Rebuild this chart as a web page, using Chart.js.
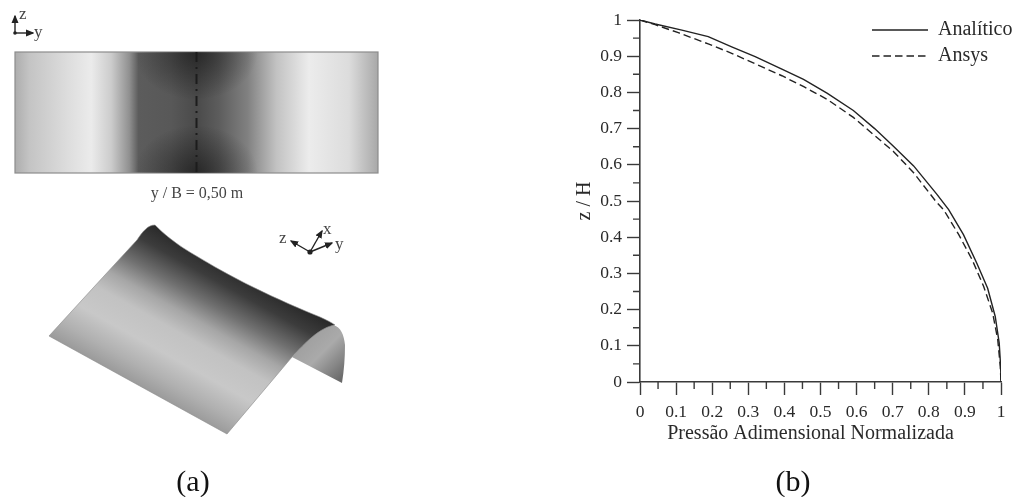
<!DOCTYPE html>
<html>
<head>
<meta charset="utf-8">
<title>Pressão Adimensional Normalizada</title>
<script src="https://cdn.jsdelivr.net/npm/chart.js@4"></script>
<style>
  html, body { margin: 0; padding: 0; background: #fff; }
  #page { position: relative; width: 1016px; height: 497px; overflow: hidden; filter: blur(0.35px); }
  #page svg, #page canvas { position: absolute; top: 0; }
  #page svg { left: 0; }
  #page canvas { left: 560px; }
  svg text { font-family: "Liberation Serif", serif; }
</style>
</head>
<body>
<div id="page">
  <svg width="1016" height="497" viewBox="0 0 1016 497">
    <defs>
      <linearGradient id="band" x1="15" y1="0" x2="378" y2="0" gradientUnits="userSpaceOnUse">
        <stop offset="0" stop-color="#adadad"/>
        <stop offset="0.04" stop-color="#c4c4c4"/>
        <stop offset="0.15" stop-color="#dedede"/>
        <stop offset="0.21" stop-color="#ebebeb"/>
        <stop offset="0.265" stop-color="#cccccc"/>
        <stop offset="0.315" stop-color="#909090"/>
        <stop offset="0.34" stop-color="#5c5c5c"/>
        <stop offset="0.43" stop-color="#585858"/>
        <stop offset="0.5" stop-color="#4a4a4a"/>
        <stop offset="0.56" stop-color="#5c5c5c"/>
        <stop offset="0.64" stop-color="#808080"/>
        <stop offset="0.72" stop-color="#c2c2c2"/>
        <stop offset="0.81" stop-color="#ececec"/>
        <stop offset="0.92" stop-color="#dcdcdc"/>
        <stop offset="1" stop-color="#a8a8a8"/>
      </linearGradient>
      <radialGradient id="dark">
        <stop offset="0" stop-color="#111" stop-opacity="0.6"/>
        <stop offset="1" stop-color="#111" stop-opacity="0"/>
      </radialGradient>
      <clipPath id="bandClip"><rect x="15" y="52" width="363" height="121"/></clipPath>
      <linearGradient id="roof" x1="153" y1="225" x2="81" y2="354" gradientUnits="userSpaceOnUse">
        <stop offset="0" stop-color="#2a2a2a"/>
        <stop offset="0.12" stop-color="#3c3c3c"/>
        <stop offset="0.28" stop-color="#707070"/>
        <stop offset="0.42" stop-color="#a6a6a6"/>
        <stop offset="0.55" stop-color="#c2c2c2"/>
        <stop offset="0.72" stop-color="#c8c8c8"/>
        <stop offset="0.88" stop-color="#b0b0b0"/>
        <stop offset="1" stop-color="#9a9a9a"/>
      </linearGradient>
      <linearGradient id="under" x1="300" y1="330" x2="345" y2="375" gradientUnits="userSpaceOnUse">
        <stop offset="0" stop-color="#9a9a9a"/>
        <stop offset="0.5" stop-color="#aaaaaa"/>
        <stop offset="1" stop-color="#6a6a6a"/>
      </linearGradient>
      <marker id="arrow" markerWidth="6" markerHeight="6" refX="5" refY="3" orient="auto">
        <path d="M0,0.5 L6,3 L0,5.5 Z" fill="#222"/>
      </marker>
    </defs>

    <!-- top view -->
    <rect x="15" y="52" width="363" height="121" fill="url(#band)" stroke="#8c8c8c" stroke-width="1.2"/>
    <g clip-path="url(#bandClip)">
      <ellipse cx="196" cy="52" rx="62" ry="48" fill="url(#dark)"/>
      <ellipse cx="196" cy="173" rx="62" ry="48" fill="url(#dark)"/>
    </g>
    <line x1="196.500" y1="52" x2="196.500" y2="174" stroke="#1c1c1c" stroke-width="2" stroke-dasharray="10 5 2 5"/>
    <text x="197" y="198" font-size="16" fill="#444" text-anchor="middle">y / B = 0,50 m</text>

    <!-- axes, top view -->
    <line x1="15" y1="33" x2="15" y2="16" stroke="#222" stroke-width="1.4" marker-end="url(#arrow)"/>
    <line x1="15" y1="33" x2="33" y2="33" stroke="#222" stroke-width="1.4" marker-end="url(#arrow)"/>
    <circle cx="15" cy="33" r="1.8" fill="#222"/>
    <text x="19" y="19" font-size="17" fill="#444">z</text>
    <text x="34" y="37" font-size="17" fill="#444">y</text>

    <!-- 3d view -->
    <path d="M342,383 L292,357 C305,343 318,328 333,325 C341,327 344,335 345,345 C345,358 344,370 342,383 Z" fill="url(#under)"/>
    <path d="M49,336 L137,240 C143,231 148,225 155,225 C175,245 190,252 215,267 C250,287 290,305 320,317 C326,320 331,322 335,325 C320,327 305,343 292,357 L227,434 Z" fill="url(#roof)" stroke="#8a8a8a" stroke-width="0.6"/>

    <!-- axes, 3d view -->
    <line x1="310" y1="252" x2="291" y2="241" stroke="#222" stroke-width="1.4" marker-end="url(#arrow)"/>
    <line x1="310" y1="252" x2="322" y2="231" stroke="#222" stroke-width="1.4" marker-end="url(#arrow)"/>
    <line x1="310" y1="252" x2="332" y2="243" stroke="#222" stroke-width="1.4" marker-end="url(#arrow)"/>
    <circle cx="310" cy="252" r="2.6" fill="#222"/>
    <text x="279" y="243" font-size="17" fill="#444">z</text>
    <text x="323" y="234" font-size="17" fill="#444">x</text>
    <text x="335" y="249" font-size="17" fill="#444">y</text>

    <text x="193" y="491" font-size="30" fill="#111" text-anchor="middle">(a)</text>
    <text x="793" y="491" font-size="30" fill="#111" text-anchor="middle">(b)</text>
  </svg>
  <canvas id="pressureChart" width="456" height="497"></canvas>
</div>

<script>
// Values
const analiticoX = [0, 0.042, 0.116, 0.189, 0.254, 0.319, 0.393, 0.453, 0.518, 0.591, 0.65, 0.702, 0.758, 0.822, 0.855, 0.896, 0.933, 0.963, 0.984, 0.995, 0.999, 1];
const analiticoZ = [1, 0.989, 0.972, 0.954, 0.926, 0.899, 0.864, 0.836, 0.798, 0.75, 0.7, 0.651, 0.597, 0.519, 0.476, 0.407, 0.328, 0.259, 0.181, 0.108, 0.043, 0];
const ansysX = [0, 0.042, 0.106, 0.189, 0.254, 0.319, 0.393, 0.455, 0.518, 0.591, 0.645, 0.702, 0.758, 0.822, 0.841, 0.883, 0.92, 0.952, 0.977, 0.991, 0.998, 1];
const ansysZ = [1, 0.987, 0.965, 0.934, 0.908, 0.879, 0.846, 0.815, 0.781, 0.731, 0.685, 0.637, 0.578, 0.496, 0.476, 0.407, 0.338, 0.264, 0.19, 0.117, 0.043, 0];

const majorTicks = [0, 0.1, 0.2, 0.3, 0.4, 0.5, 0.6, 0.7, 0.8, 0.9, 1];
const minorTicks = [0.05, 0.15, 0.25, 0.35, 0.45, 0.55, 0.65, 0.75, 0.85, 0.95];

const toPoints = (xs, zs) => xs.map((x, i) => ({ x: x, y: zs[i] }));
const serif = '"Liberation Serif", serif';
const ink = '#2a2a2a';
const axisColor = '#3a3a3a';

// Chart.js has no fixed length for minor ticks, so they are added here
const minorTickPlugin = {
    id: 'minorTicks',
    afterDraw(chart) {
        const { ctx, scales, chartArea } = chart;
        ctx.save();
        ctx.strokeStyle = axisColor;
        ctx.lineWidth = 1.4;
        ctx.beginPath();
        minorTicks.forEach(v => {
            const px = scales.x.getPixelForValue(v);
            const py = scales.y.getPixelForValue(v);
            ctx.moveTo(px, chartArea.bottom);
            ctx.lineTo(px, chartArea.bottom + 7);
            ctx.moveTo(chartArea.left, py);
            ctx.lineTo(chartArea.left - 7, py);
        });
        ctx.stroke();
        ctx.restore();
    }
};

// Puts the legend at the top right, partly outside the plot area
const legendPlacePlugin = {
    id: 'legendPlace',
    afterLayout(chart) {
        const legend = chart.legend;
        const w = legend.width;
        const h = legend.height;
        legend.left = 306;
        legend.top = 14;
        legend.right = legend.left + w;
        legend.bottom = legend.top + h;
    }
};

const axisOptions = (titleText, titlePadding, tickPadding, fit) => ({
    type: 'linear',
    min: 0,
    max: 1,
    afterBuildTicks: scale => { scale.ticks = majorTicks.map(v => ({ value: v })); },
    afterFit: fit,
    border: { color: axisColor, width: 1.6 },
    grid: { drawOnChartArea: false, drawTicks: true, tickLength: 13, tickColor: axisColor, tickWidth: 1.4 },
    ticks: {
        autoSkip: false,
        maxRotation: 0,
        color: ink,
        padding: tickPadding,
        font: { family: serif, size: 17.5 },
        callback: value => String(value)
    },
    title: {
        display: true,
        text: titleText,
        color: ink,
        padding: titlePadding,
        font: { family: serif, size: 20 }
    }
});

new Chart(document.getElementById('pressureChart').getContext('2d'), {
    type: 'scatter',
    data: {
        datasets: [{
            label: 'Analítico',
            data: toPoints(analiticoX, analiticoZ),
            showLine: true,
            borderColor: '#222',
            borderWidth: 1.4,
            pointRadius: 0
        }, {
            label: 'Ansys',
            data: toPoints(ansysX, ansysZ),
            showLine: true,
            borderColor: '#222',
            borderWidth: 1.4,
            borderDash: [7.5, 4],
            pointRadius: 0
        }]
    },
    options: {
        responsive: false,
        animation: false,
        layout: { padding: { top: 20, right: 15, left: 0, bottom: 0 } },
        plugins: {
            tooltip: { enabled: false },
            legend: {
                position: 'chartArea',
                align: 'start',
                labels: {
                    usePointStyle: true,
                    pointStyle: 'line',
                    pointStyleWidth: 56,
                    padding: 6,
                    color: ink,
                    font: { family: serif, size: 20 },
                    // with point styles the default labels lose the line dash
                    generateLabels: chart => Chart.defaults.plugins.legend.labels.generateLabels(chart).map((item, i) => {
                        const ds = chart.data.datasets[i];
                        item.lineDash = ds.borderDash || [];
                        item.strokeStyle = ds.borderColor;
                        item.lineWidth = ds.borderWidth;
                        return item;
                    })
                }
            }
        },
        scales: {
            // trailing spaces move the centred title left, as in the original
            x: axisOptions('Pressão Adimensional Normalizada    ', { top: 0, bottom: 51 }, 7, scale => { scale.height = 115; }),
            y: axisOptions('z / H', { top: 13, bottom: 0 }, 5, scale => { scale.width = 80; })
        }
    },
    plugins: [minorTickPlugin, legendPlacePlugin]
});
</script>
</body>
</html>
